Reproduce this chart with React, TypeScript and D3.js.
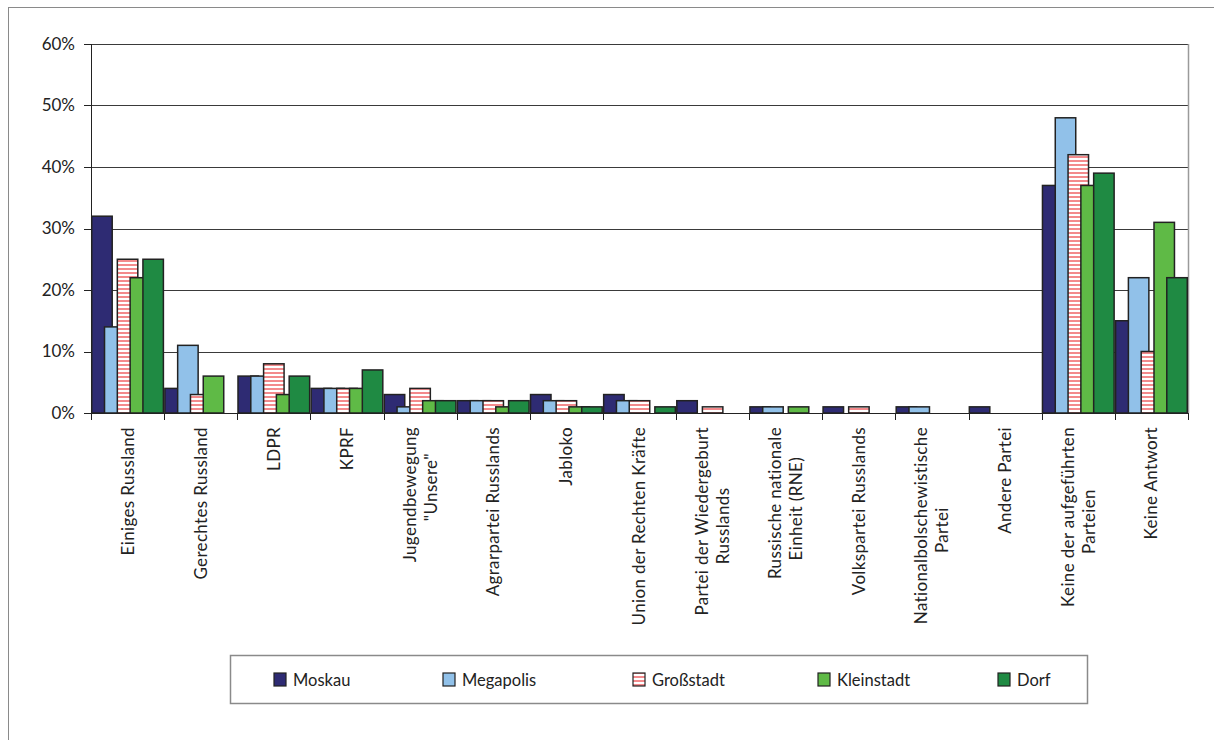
import React from "react";
import * as d3 from "d3";

const categories: string[][] = [
  ["Einiges Russland"],
  ["Gerechtes Russland"],
  ["LDPR"],
  ["KPRF"],
  ["Jugendbewegung", "\"Unsere\""],
  ["Agrarpartei Russlands"],
  ["Jabloko"],
  ["Union der Rechten Kräfte"],
  ["Partei der Wiedergeburt", "Russlands"],
  ["Russische nationale", "Einheit (RNE)"],
  ["Volkspartei Russlands"],
  ["Nationalbolschewistische", "Partei"],
  ["Andere Partei"],
  ["Keine der aufgeführten", "Parteien"],
  ["Keine Antwort"],
];

const seriesNames = ["Moskau", "Megapolis", "Großstadt", "Kleinstadt", "Dorf"];

const moskau = [32, 4, 6, 4, 3, 2, 3, 3, 2, 1, 1, 1, 1, 37, 15];
const megapolis = [14, 11, 6, 4, 1, 2, 2, 2, 0, 1, 0, 1, 0, 48, 22];
const grossstadt = [25, 3, 8, 4, 4, 2, 2, 2, 1, 0, 1, 0, 0, 42, 10];
const kleinstadt = [22, 6, 3, 4, 2, 1, 1, 0, 0, 1, 0, 0, 0, 37, 31];
const dorf = [25, 0, 6, 7, 2, 2, 1, 1, 0, 0, 0, 0, 0, 39, 22];

const seriesValues = [moskau, megapolis, grossstadt, kleinstadt, dorf];
const yTicks = [0, 10, 20, 30, 40, 50, 60];

const fills = ["#2e2b73", "#91c1e9", "url(#stripes)", "#5fba46", "#1f8a43"];
const FONT = "Lato, 'Open Sans', sans-serif";

export default function App() {
  const W = 1214;
  const H = 740;
  const left = 91;
  const right = 1188;
  const top = 44;
  const bottom = 413;

  const x = d3
    .scaleBand<number>()
    .domain(d3.range(categories.length))
    .range([left, right])
    .paddingInner(0)
    .paddingOuter(0);
  const y = d3.scaleLinear().domain([0, 60]).range([bottom, top]);
  const bw = x.bandwidth();
  const step = bw * 0.175;
  const barW = bw * 0.28;
  const groupW = step * 4 + barW;
  const off = (bw - groupW) / 2;

  return (
    <div style={{ position: "absolute", left: 0, top: 0 }}>
      <svg width={W} height={H} style={{ display: "block" }}>
        <defs>
          <pattern id="stripes" patternUnits="userSpaceOnUse" width="6" height="4">
            <rect x="0" y="0" width="6" height="4" fill="#ffffff" />
            <rect x="0" y="0" width="6" height="2" fill="#f38a8c" />
          </pattern>
        </defs>
        <rect x={0} y={0} width={W} height={H} fill="#ffffff" />
        <rect x={8.5} y={7.5} width={1212} height={740} fill="none" stroke="#8a8a8a" strokeWidth={1} />

        {/* gridlines */}
        {yTicks.map((t) => (
          <line
            key={"g" + t}
            x1={left}
            x2={right}
            y1={Math.round(y(t)) + 0.5}
            y2={Math.round(y(t)) + 0.5}
            stroke="#3a3a3a"
            strokeWidth={1}
          />
        ))}
        {/* right plot border */}
        <line x1={right + 0.5} x2={right + 0.5} y1={top} y2={bottom} stroke="#9a9a9a" strokeWidth={1.5} />

        {/* bars */}
        {seriesValues.map((vals, si) =>
          vals.map((v, ci) =>
            v > 0 ? (
              <rect
                key={si + "-" + ci}
                x={(x(ci) as number) + off + si * step}
                y={y(v)}
                width={barW}
                height={bottom - y(v)}
                fill={fills[si]}
                stroke="#222222"
                strokeWidth={1.5}
              />
            ) : null
          )
        )}

        {/* axes */}
        <line x1={left + 0.5} x2={left + 0.5} y1={top} y2={bottom} stroke="#222" strokeWidth={1} />
        <line x1={left} x2={right} y1={bottom + 0.5} y2={bottom + 0.5} stroke="#222" strokeWidth={1} />
        {yTicks.map((t) => (
          <g key={"yt" + t}>
            <line
              x1={left - 7}
              x2={left}
              y1={Math.round(y(t)) + 0.5}
              y2={Math.round(y(t)) + 0.5}
              stroke="#222"
            />
            <text
              x={75}
              y={y(t)}
              dy="0.35em"
              textAnchor="end"
              fontFamily={FONT}
              fontSize={17}
              fill="#222"
            >
              {t + "%"}
            </text>
          </g>
        ))}
        {d3.range(categories.length + 1).map((i) => {
          const xx = Math.round(left + i * bw) + 0.5;
          return <line key={"xt" + i} x1={xx} x2={xx} y1={bottom} y2={bottom + 7} stroke="#222" />;
        })}

        {/* category labels */}
        {categories.map((lines, ci) => {
          const cx = (x(ci) as number) + bw / 2;
          const lh = 21;
          return lines.map((ln, li) => {
            const lx = cx + (li - (lines.length - 1) / 2) * lh;
            const lineLen = ln.length;
            const maxLen = Math.max(...lines.map((l) => l.length));
            return (
              <text
                key={"c" + ci + "-" + li}
                transform={`translate(${lx},${427}) rotate(-90)`}
                textAnchor={lines.length > 1 && lineLen < maxLen ? "middle" : "end"}
                dx={lines.length > 1 && lineLen < maxLen ? -maxLen * 4.3 : 0}
                dy="0.35em"
                fontFamily={FONT}
                fontSize={17}
                letterSpacing={0.35}
                fill="#222"
              >
                {ln}
              </text>
            );
          });
        })}

        {/* legend */}
        <rect x={230.5} y={655.5} width={857} height={48} fill="#fff" stroke="#8a8a8a" strokeWidth={1.5} />
        {seriesNames.map((name, si) => {
          const lx = [274, 443, 633, 818, 998][si];
          return (
            <g key={"l" + si}>
              <rect x={lx} y={673} width={12} height={13} fill={fills[si]} stroke="#222" strokeWidth={1.2} />
              <text x={lx + 19} y={680} dy="0.35em" fontFamily={FONT} fontSize={16.5} fill="#222">
                {name}
              </text>
            </g>
          );
        })}
      </svg>
    </div>
  );
}
